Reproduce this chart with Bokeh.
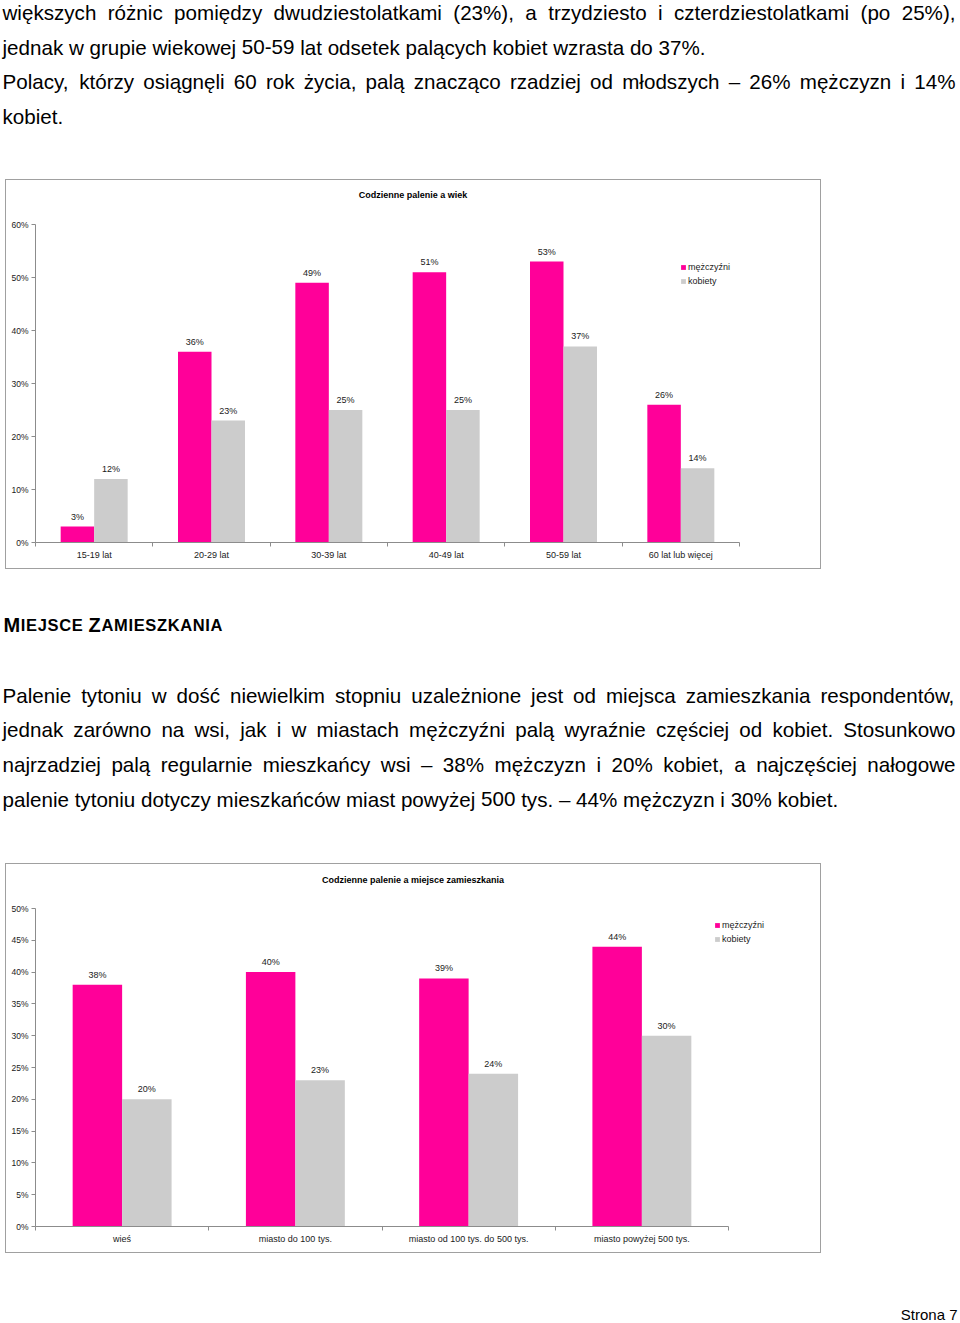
from bokeh.plotting import figure
from bokeh.layouts import column
from bokeh.models import (Range1d, FixedTicker, PrintfTickFormatter, Legend,
                          LegendItem, ColumnDataSource, Label)
from bokeh.core.properties import value
from bokeh.embed import file_html
from bokeh.resources import INLINE

FONT = "Liberation Sans"
PINK = "#FF0099"
GREY = "#CCCCCC"
AXIS = "#8C8C8C"
INK = "#1A1A1A"

# ---------------- data ----------------
series_names = ["mężczyźni", "kobiety"]

age_title = "Codzienne palenie a wiek"
age_groups = ["15-19 lat", "20-29 lat", "30-39 lat", "40-49 lat", "50-59 lat", "60 lat lub więcej"]
age_men = [3, 36, 49, 51, 53, 26]
age_women = [12, 23, 25, 25, 37, 14]
age_ticks = [0, 10, 20, 30, 40, 50, 60]

place_title = "Codzienne palenie a miejsce zamieszkania"
place_groups = ["wieś", "miasto do 100 tys.", "miasto od 100 tys. do 500 tys.", "miasto powyżej 500 tys."]
place_men = [38, 40, 39, 44]
place_women = [20, 23, 24, 30]
place_ticks = [0, 5, 10, 15, 20, 25, 30, 35, 40, 45, 50]

top_lines = [
    "większych różnic pomiędzy dwudziestolatkami (23%), a trzydziesto i czterdziestolatkami (po 25%),",
    "jednak w grupie wiekowej 50-59 lat odsetek palących kobiet wzrasta do 37%.",
    "Polacy, którzy osiągnęli 60 rok życia, palą znacząco rzadziej od młodszych – 26% mężczyzn i 14%",
    "kobiet.",
]
top_justify = [True, False, True, False]

heading_parts = [("M", True), ("IEJSCE", False), (" ", False), ("Z", True), ("AMIESZKANIA", False)]

mid_lines = [
    "Palenie tytoniu w dość niewielkim stopniu uzależnione jest od miejsca zamieszkania respondentów,",
    "jednak zarówno na wsi, jak i w miastach mężczyźni palą wyraźnie częściej od kobiet. Stosunkowo",
    "najrzadziej palą regularnie mieszkańcy wsi – 38% mężczyzn i 20% kobiet, a najczęściej nałogowe",
    "palenie tytoniu dotyczy mieszkańców miast powyżej 500 tys. – 44% mężczyzn i 30% kobiet.",
]
mid_justify = [True, True, True, False]

page_label = "Strona 7"

# ---------------- font metrics (Arial / Liberation Sans, per 1000 em) ----------------
REG = {" ": 278, "%": 889, "(": 333, ")": 333, ",": 278, "-": 333, ".": 278, "–": 556,
       "A": 667, "B": 667, "C": 722, "D": 722, "E": 667, "F": 611, "G": 778, "H": 722,
       "I": 278, "J": 500, "K": 667, "L": 556, "M": 833, "N": 722, "O": 778, "P": 667,
       "Q": 778, "R": 722, "S": 667, "T": 611, "U": 722, "V": 667, "W": 944, "X": 667,
       "Y": 667, "Z": 611,
       "a": 556, "b": 556, "c": 500, "d": 556, "e": 556, "f": 278, "g": 556, "h": 556,
       "i": 222, "j": 222, "k": 500, "l": 222, "m": 833, "n": 556, "o": 556, "p": 556,
       "q": 556, "r": 333, "s": 500, "t": 278, "u": 556, "v": 500, "w": 722, "x": 500,
       "y": 500, "z": 500,
       "ą": 556, "ć": 500, "ę": 556, "ł": 222, "ń": 556, "ó": 556, "ś": 500, "ź": 500, "ż": 500}
BOLD = {" ": 278, "A": 722, "C": 722, "E": 667, "I": 278, "J": 556, "K": 722, "M": 833,
        "N": 722, "S": 667, "Z": 611}


def tw(s, size, table=REG):
    return sum(table.get(c, 556) for c in s) * size / 1000.0


def layout_line(line, x0, x1, size, justify):
    words = line.split(" ")
    widths = [tw(w, size) for w in words]
    if justify and len(words) > 1:
        gap = (x1 - x0 - sum(widths)) / (len(words) - 1)
    else:
        gap = tw(" ", size)
    xs, x = [], x0
    for w in widths:
        xs.append(x)
        x += w + gap
    return words, xs


def text_fig(h):
    p = figure(width=960, height=h, x_range=Range1d(0, 960), y_range=Range1d(h, 0),
               output_backend="svg", toolbar_location=None, min_border=0,
               x_axis_location=None, y_axis_location=None, frame_align=False)
    p.grid.visible = False
    p.outline_line_color = None
    p.background_fill_color = "white"
    p.border_fill_color = "white"
    return p


TEXT_SIZE = 20.6


def paragraph(p, lines, justify, baselines, size=TEXT_SIZE, x0=2, x1=955):
    xs, ys, ws = [], [], []
    for line, j, b in zip(lines, justify, baselines):
        words, wx = layout_line(line, x0, x1, size, j)
        ws += words
        xs += wx
        ys += [b] * len(words)
    p.text(x=xs, y=ys, text=ws, text_font=value(FONT), text_font_size=f"{size}px",
           text_baseline="alphabetic", text_align="left", text_color="black")


CANVAS_W = 816
CANVAS_H = 390
LEFT_B = 29
RIGHT_B = 5
BOTTOM_B = 28
AXIS_PX_H = 318     # pixel height of the value axis


def bar_chart(groups, men, women, ticks, title, axis_px, title_xy, legend_loc):
    n = len(groups)
    bw = 0.571
    frame_w = CANVAS_W - LEFT_B - RIGHT_B
    frame_h = CANVAS_H - BOTTOM_B
    x_end = 2 * n * frame_w / axis_px
    y_end = ticks[-1] * frame_h / AXIS_PX_H
    p = figure(width=816, height=390, x_range=Range1d(0, x_end), y_range=Range1d(0, y_end),
               output_backend="svg", toolbar_location=None,
               min_border_left=LEFT_B, min_border_right=RIGHT_B,
               min_border_top=0, min_border_bottom=BOTTOM_B, margin=(0, 0, 0, 5),
               frame_align=False)
    p.styles = {"border": "1px solid #A0A0A0", "box-sizing": "border-box"}
    p.grid.visible = False
    p.outline_line_color = None
    p.background_fill_color = "white"
    p.border_fill_color = "white"

    p.add_layout(Label(x=title_xy[0], y=title_xy[1], x_units="screen", y_units="screen",
                       text=title, text_align="center", text_baseline="middle",
                       text_font=FONT, text_font_size="9px", text_font_style="bold",
                       text_color="black"))

    centers = [2 * i + 1 for i in range(n)]
    src = ColumnDataSource(dict(
        xm=[c - bw / 2 for c in centers], xw=[c + bw / 2 for c in centers],
        men=men, women=women,
        lm=[f"{v}%" for v in men], lw=[f"{v}%" for v in women]))
    r1 = p.vbar(x="xm", top="men", width=bw, source=src, fill_color=PINK, line_color=None)
    r2 = p.vbar(x="xw", top="women", width=bw, source=src, fill_color=GREY, line_color=None)
    for xcol, ycol, tcol in (("xm", "men", "lm"), ("xw", "women", "lw")):
        p.text(x=xcol, y=ycol, text=tcol, source=src, text_align="center",
               text_baseline="alphabetic", y_offset=-10, text_font=value(FONT),
               text_font_size="9px", text_color=INK)

    xa = p.xaxis[0]
    xa.bounds = (0, 2 * n)
    xa.ticker = FixedTicker(ticks=centers, minor_ticks=list(range(0, 2 * n + 1, 2)))
    xa.major_label_overrides = {c: g for c, g in zip(centers, groups)}
    xa.major_tick_line_color = None
    xa.major_tick_out = 0
    xa.major_tick_in = 0
    xa.minor_tick_in = 0
    xa.minor_tick_out = 4
    xa.minor_tick_line_color = AXIS
    xa.axis_line_color = AXIS
    xa.major_label_standoff = 3
    xa.major_label_text_font = FONT
    xa.major_label_text_font_size = "9px"
    xa.major_label_text_color = INK

    ya = p.yaxis[0]
    ya.bounds = (0, ticks[-1])
    ya.ticker = FixedTicker(ticks=ticks, minor_ticks=[])
    ya.formatter = PrintfTickFormatter(format="%d%%")
    ya.major_tick_in = 0
    ya.major_tick_out = 4
    ya.major_tick_line_color = AXIS
    ya.minor_tick_line_color = None
    ya.axis_line_color = AXIS
    ya.major_label_standoff = 3
    ya.major_label_text_font = FONT
    ya.major_label_text_font_size = "8.5px"
    ya.major_label_text_color = INK

    legend = Legend(items=[LegendItem(label=series_names[0], renderers=[r1]),
                           LegendItem(label=series_names[1], renderers=[r2])],
                    location=legend_loc, orientation="vertical",
                    glyph_width=6, glyph_height=6, label_height=9, label_standoff=2,
                    spacing=4, padding=0, margin=0, border_line_color=None,
                    background_fill_alpha=0, label_text_font=FONT,
                    label_text_font_size="9px", label_text_color=INK)
    p.add_layout(legend)
    return p


# ---------------- page pieces ----------------
top = text_fig(179)
paragraph(top, top_lines, top_justify, [11.8, 46.6, 81.4, 116.2])

chart1 = bar_chart(age_groups, age_men, age_women, age_ticks, age_title,
                   axis_px=704, title_xy=(377.5, 348), legend_loc=(645, 256))

mid = text_fig(294)
# heading in small caps, letter by letter
letters = []
for part, big in heading_parts:
    for ch in part:
        letters.append((ch, 20.0 if big else 16.5))
natural = sum(tw(ch, s, BOLD) for ch, s in letters)
extra = (219.0 - natural) / (len(letters) - 1)
hx, hxs, hts, hsz = 3.0, [], [], []
for ch, s in letters:
    if ch != " ":
        hxs.append(hx)
        hts.append(ch)
        hsz.append(f"{s}px")
    hx += tw(ch, s, BOLD) + extra
mid.text(x=hxs, y=[55.0] * len(hxs), text=hts, text_font=value(FONT), text_font_size=hsz,
         text_font_style="bold", text_baseline="alphabetic", text_align="left",
         text_color="black")
paragraph(mid, mid_lines, mid_justify, [125.6, 160.3, 195.0, 229.6])

chart2 = bar_chart(place_groups, place_men, place_women, place_ticks, place_title,
                   axis_px=693, title_xy=(377.5, 347), legend_loc=(679, 282))

bottom = text_fig(70)
bottom.text(x=[957], y=[61.0], text=[page_label], text_font=value(FONT),
            text_font_size="15px", text_baseline="alphabetic", text_align="right",
            text_color="black")

page = column(top, chart1, mid, chart2, bottom, spacing=0)

open("out.html", "w").write(file_html(page, INLINE))
